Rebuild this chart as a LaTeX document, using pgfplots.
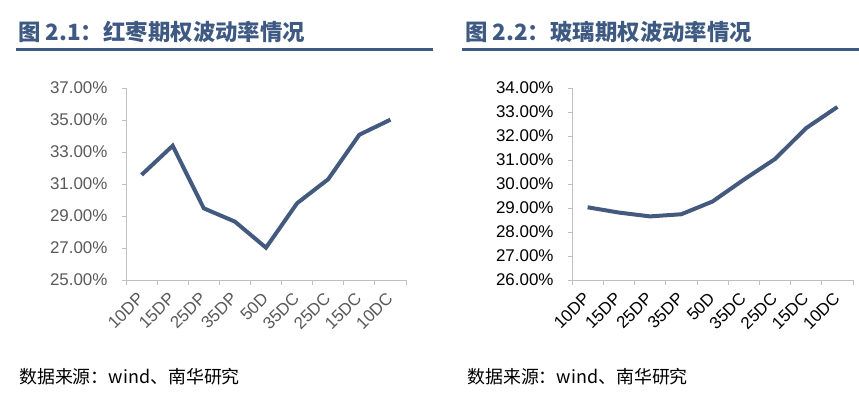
\documentclass[border=0pt]{standalone}
\usepackage{pgfplots}
\pgfplotsset{compat=1.18}
\usepackage{fontspec}
\setmainfont{Liberation Sans}
\newfontfamily\cjk{Noto Sans CJK SC}
\definecolor{linec}{HTML}{435A7E}
\definecolor{titlec}{HTML}{3F5A82}
\definecolor{axisc}{HTML}{BFBFBF}
\definecolor{lblgrey}{HTML}{595959}
\pgfplotsset{
  vol/.style={
    scale only axis, width=280bp, height=192bp,
    anchor=south west,
    xmin=0.5, xmax=9.5,
    xtick={1,...,9},
    xticklabels={10DP,15DP,25DP,35DP,50D,35DC,25DC,15DC,10DC},
    minor xtick={0.5,1.5,...,9.5},
    major x tick style={draw=none},
    axis x line*=bottom, axis y line*=left,
    axis line style={axisc, line width=0.8bp},
    every tick/.style={axisc, line width=0.8bp},
    tick align=outside,
    major tick length=4bp, minor tick length=5bp,
    tick label style={font=\fontsize{17}{20}\selectfont},
    xticklabel style={rotate=45, anchor=east, inner sep=1bp, yshift=-7.8bp, xshift=-7.8bp},
    yticklabel style={xshift=-11bp},
    clip=false,
  }
}
\begin{document}
\begin{tikzpicture}[x=1bp,y=1bp]
\useasboundingbox (0,0) rectangle (859,408);
% titles and rules
\node[anchor=west, inner sep=0, text=titlec, font=\cjk\bfseries\fontsize{22.5}{26}\selectfont] at (18,376.3) {图 2.1：红枣期权波动率情况};
\node[anchor=west, inner sep=0, text=titlec, font=\cjk\bfseries\fontsize{22.5}{26}\selectfont] at (465,376.3) {图 2.2：玻璃期权波动率情况};
\fill[titlec] (16,357.1) rectangle (432.7,360.4);
\fill[titlec] (462,357.1) rectangle (859,360.4);
% sources
\node[anchor=west, inner sep=0, font=\cjk\fontsize{18}{20}\selectfont] at (19,31.3) {数据来源：wind、南华研究};
\node[anchor=west, inner sep=0, font=\cjk\fontsize{18}{20}\selectfont] at (467,31.3) {数据来源：wind、南华研究};
% left chart
\begin{axis}[vol, at={(126bp,128bp)},
  ymin=25, ymax=37, ytick={25,27,...,37},
  yticklabels={25.00\%,27.00\%,29.00\%,31.00\%,33.00\%,35.00\%,37.00\%},
  tick label style={text=lblgrey}]
\addplot[linec, line width=4bp] coordinates {
(1,31.57) (2,33.39) (3,29.48) (4,28.65) (5,27.02) (6,29.80) (7,31.30) (8,34.08) (9,35.02)};
\end{axis}
% right chart
\begin{axis}[vol, at={(572bp,128bp)}, width=281bp,
  ymin=26, ymax=34, ytick={26,27,...,34},
  yticklabels={26.00\%,27.00\%,28.00\%,29.00\%,30.00\%,31.00\%,32.00\%,33.00\%,34.00\%},
  tick label style={text=black}]
\addplot[linec, line width=4bp] coordinates {
(1,29.03) (2,28.81) (3,28.65) (4,28.74) (5,29.27) (6,30.18) (7,31.04) (8,32.33) (9,33.21)};
\end{axis}
\end{tikzpicture}
\end{document}
